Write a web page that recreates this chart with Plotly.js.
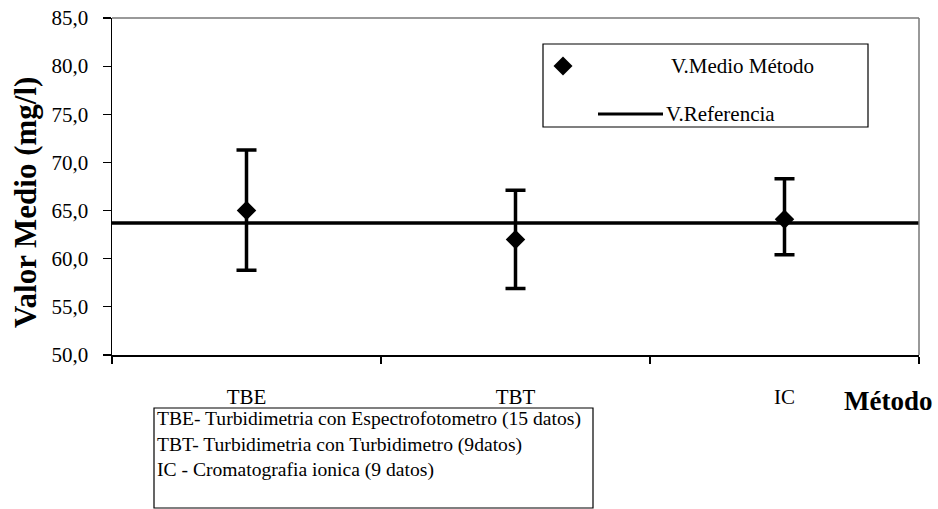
<!DOCTYPE html>
<html>
<head>
<meta charset="utf-8">
<script src="https://cdn.plot.ly/plotly-3.0.1.min.js"></script>
<style>html,body{margin:0;padding:0;background:#fff;}#chart{width:938px;height:509px;}</style>
</head>
<body>
<div id="chart"></div>
<script>
// ---- data ----
var categories = ['TBE', 'TBT', 'IC'];
var means = [65.0, 62.0, 64.1];
var upper = [71.3, 67.1, 68.3];
var lower = [58.8, 56.9, 60.4];
var referenceValue = 63.7;
var yTickValues = [50, 55, 60, 65, 70, 75, 80, 85];
var seriesNames = ['V.Medio Método', 'V.Referencia'];
var noteLines = [
  'TBE- Turbidimetria con Espectrofotometro (15 datos)',
  'TBT- Turbidimetria con Turbidimetro (9datos)',
  'IC - Cromatografia ionica (9 datos)'
];
var yTitle = 'Valor Medio (mg/l)';
var xTitle = 'Método';

// ---- layout helpers ----
var W = 938, H = 509;
var L = 112, R = 919, T = 18, B = 355;
function X(px) { return (px - L) / (R - L); }
function Y(py) { return (B - py) / (B - T); }
var FONT = '"Liberation Serif", "Times New Roman", serif';

var errPlus = means.map(function (m, i) { return upper[i] - m; });
var errMinus = means.map(function (m, i) { return m - lower[i]; });

var traces = [{
  type: 'scatter',
  mode: 'markers',
  x: categories,
  y: means,
  name: seriesNames[0],
  marker: { symbol: 'diamond', size: 15, color: '#000' },
  error_y: {
    type: 'data', symmetric: false,
    array: errPlus, arrayminus: errMinus,
    color: '#000', thickness: 3.5, width: 10
  },
  cliponaxis: false,
  showlegend: false
}];

function diamondPath(cx, cy, hw, hh) {
  return 'M ' + X(cx - hw) + ' ' + Y(cy) + ' L ' + X(cx) + ' ' + Y(cy - hh) +
    ' L ' + X(cx + hw) + ' ' + Y(cy) + ' L ' + X(cx) + ' ' + Y(cy + hh) + ' Z';
}

var shapes = [
  { type: 'line', xref: 'paper', yref: 'y', x0: 0, x1: 1, y0: referenceValue, y1: referenceValue,
    line: { color: '#000', width: 3.5 }, layer: 'below' },
  { type: 'line', xref: 'paper', yref: 'paper', x0: 0, x1: 1, y0: 1, y1: 1, line: { color: '#777', width: 1.5 } },
  { type: 'line', xref: 'paper', yref: 'paper', x0: 1, x1: 1, y0: 0, y1: 1, line: { color: '#777', width: 1.5 } },
  { type: 'rect', xref: 'paper', yref: 'paper', x0: X(543), x1: X(868), y0: Y(127), y1: Y(44),
    line: { color: '#000', width: 1.2 }, fillcolor: 'rgba(0,0,0,0)' },
  { type: 'path', xref: 'paper', yref: 'paper', path: diamondPath(563, 66, 9.5, 9.5),
    fillcolor: '#000', line: { color: '#000', width: 0 } },
  { type: 'line', xref: 'paper', yref: 'paper', x0: X(598), x1: X(663), y0: Y(114), y1: Y(114),
    line: { color: '#000', width: 3 } },
  { type: 'rect', xref: 'paper', yref: 'paper', x0: X(154), x1: X(593), y0: Y(508), y1: Y(408),
    line: { color: '#000', width: 1.2 }, fillcolor: 'rgba(0,0,0,0)' }
];

var annotations = [
  { xref: 'paper', yref: 'paper', x: X(25), y: Y(203), text: '<b>' + yTitle + '</b>', textangle: -90,
    showarrow: false, xanchor: 'center', yanchor: 'middle', font: { family: FONT, size: 31, color: '#000' } },
  { xref: 'paper', yref: 'paper', x: X(888), y: Y(401), text: '<b>' + xTitle + '</b>',
    showarrow: false, xanchor: 'center', yanchor: 'middle', font: { family: FONT, size: 27, color: '#000' } },
  { xref: 'paper', yref: 'paper', x: X(669), y: Y(66), text: seriesNames[0],
    showarrow: false, xanchor: 'left', yanchor: 'middle', font: { family: FONT, size: 21, color: '#000' } },
  { xref: 'paper', yref: 'paper', x: X(664), y: Y(114), text: seriesNames[1],
    showarrow: false, xanchor: 'left', yanchor: 'middle', font: { family: FONT, size: 21, color: '#000' } }
];
var lineY = [419, 445, 470];
noteLines.forEach(function (t, i) {
  annotations.push({ xref: 'paper', yref: 'paper', x: X(155), y: Y(lineY[i]), text: t,
    showarrow: false, xanchor: 'left', yanchor: 'middle', font: { family: FONT, size: 19.6, color: '#000' } });
});

var layout = {
  width: W, height: H,
  margin: { l: L, r: W - R, t: T, b: H - B, pad: 0 },
  paper_bgcolor: '#fff', plot_bgcolor: '#fff',
  showlegend: false,
  separators: ',.',
  font: { family: FONT, color: '#000' },
  xaxis: {
    type: 'category', range: [-0.5, 2.5], fixedrange: true,
    showgrid: false, zeroline: false,
    showline: true, linecolor: '#000', linewidth: 1.5,
    ticks: 'outside', tickson: 'boundaries', ticklen: 7, tickcolor: '#000', tickwidth: 1.2,
    tickfont: { family: FONT, size: 21, color: '#000' },
    ticklabelstandoff: 22
  },
  yaxis: {
    range: [50, 85], fixedrange: true,
    tickmode: 'array', tickvals: yTickValues, tickformat: '.1f',
    showgrid: false, zeroline: false,
    showline: true, linecolor: '#000', linewidth: 1.5,
    ticks: 'outside', ticklen: 8, tickcolor: '#000', tickwidth: 1.2,
    tickfont: { family: FONT, size: 21, color: '#000' },
    ticklabelstandoff: 10
  },
  shapes: shapes,
  annotations: annotations
};

Plotly.newPlot('chart', traces, layout, { displayModeBar: false, staticPlot: true });
</script>
</body>
</html>
